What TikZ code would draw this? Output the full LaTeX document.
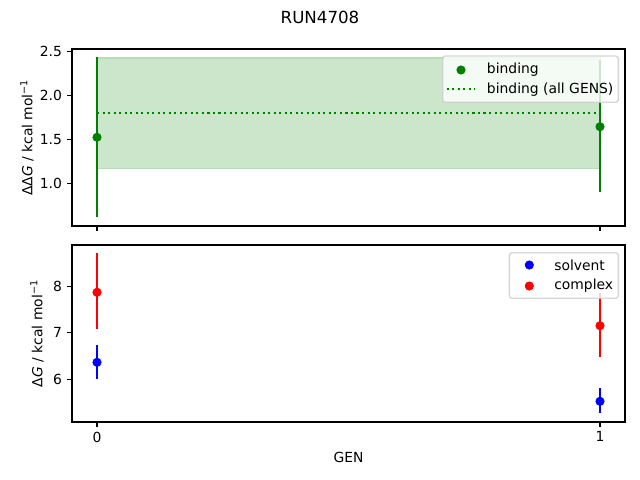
\documentclass[tikz,border=0pt]{standalone}
\usepackage{fontspec}
\setmainfont{DejaVu Sans}
\definecolor{mgreen}{HTML}{008000}
\definecolor{band}{HTML}{CCE6CC}
\definecolor{bandedge}{HTML}{B8DCB8}
\definecolor{legedge}{HTML}{CCCCCC}
\begin{document}
\begin{tikzpicture}[x=0.72pt,y=-0.72pt,
  axisbox/.style={draw=black,line width=0.8pt},
  tickmark/.style={draw=black,line width=0.8pt},
  ebar/.style={line width=1.5pt},
  pt/.style={circle,inner sep=0pt,minimum size=6.6pt},
  ylab/.style={anchor=east,font=\fontsize{10}{12}\selectfont,inner sep=0pt},
  xlab/.style={anchor=north,font=\fontsize{10}{12}\selectfont,inner sep=0pt},
  legbox/.style={draw=legedge,fill=white,fill opacity=0.8,draw opacity=0.8,line width=1pt,rounded corners=2pt},
  legtext/.style={anchor=west,font=\fontsize{10}{12}\selectfont,inner sep=0pt},
  axlabel/.style={font=\fontsize{10}{12}\selectfont,inner sep=0pt}]
\useasboundingbox (0,0) rectangle (640,480);
\fill[white] (0,0) rectangle (640,480);
\node[font=\fontsize{12}{14}\selectfont] (title) at (320,17) {RUN4708};

% ---------- top axes ----------
\filldraw[fill=band,draw=bandedge,line width=1pt] (97,58) rectangle (600,168.3);
\draw[mgreen,line width=1.5pt,dash pattern=on 1.5pt off 2.475pt] (97,112.7) coordinate (dl0) -- (600,112.7) coordinate (dl1);
\coordinate (g0t) at (97,57.3); \coordinate (g0b) at (97,217.3);
\coordinate (g1t) at (600,60); \coordinate (g1b) at (600,191.7);
\draw[ebar,mgreen] (g0t) -- (g0b);
\draw[ebar,mgreen] (g1t) -- (g1b);
\node[pt,fill=mgreen] (bind0) at (97,137.3) {};
\node[pt,fill=mgreen] (bind1) at (600,126.7) {};
\draw[axisbox] (72,49) rectangle (625,226);
% ticks
\foreach \y/\l in {51.3/2.5,95.3/2.0,139.3/1.5,183.3/1.0}{
  \draw[tickmark] (72,\y) -- (67.14,\y);
  \node[ylab] at (62.2,\y) {\l};
}
\foreach \x in {97,600}{\draw[tickmark] (\x,226) -- (\x,230.86);}
\node[axlabel,rotate=90] (ylabtop) at (27,137.5) {ΔΔ\textit{G} / kcal mol\textsuperscript{−1}};
% legend
\draw[legbox] (442.7,56) rectangle (618.3,102.3);
\node[pt,fill=mgreen] (legbind) at (461,70) {};
\node[legtext] (tbind) at (486.7,70) {binding};
\draw[mgreen,line width=1.5pt,dash pattern=on 1.5pt off 2.475pt] (446.7,89.3) coordinate (ld0) -- (475,89.3) coordinate (ld1);
\node[legtext] (tall) at (486.7,89.3) {binding (all GENS)};

% ---------- bottom axes ----------
\draw[ebar,blue] (97,345) coordinate (s0t) -- (97,378.7) coordinate (s0b);
\draw[ebar,blue] (600,388.3) coordinate (s1t) -- (600,413.3) coordinate (s1b);
\draw[ebar,red] (97,253.3) coordinate (c0t) -- (97,329.3) coordinate (c0b);
\draw[ebar,red] (600,293.3) coordinate (c1t) -- (600,356.7) coordinate (c1b);
\node[pt,fill=blue] (solv0) at (97,362.3) {};
\node[pt,fill=blue] (solv1) at (600,401.3) {};
\node[pt,fill=red] (comp0) at (97,292.3) {};
\node[pt,fill=red] (comp1) at (600,325.7) {};
\draw[axisbox] (72,245) rectangle (625,422);
\foreach \y/\l in {286.7/8,332.9/7,379.3/6}{
  \draw[tickmark] (72,\y) -- (67.14,\y);
  \node[ylab] at (62.2,\y) {\l};
}
\foreach \x/\l in {97/0,600/1}{
  \draw[tickmark] (\x,422) -- (\x,426.86);
  \node[xlab] at (\x,431.5) {\l};
}
\node[axlabel,rotate=90] (ylabbot) at (37,333.5) {Δ\textit{G} / kcal mol\textsuperscript{−1}};
\node[axlabel] (genlab) at (348.5,457) {GEN};
% legend
\draw[legbox] (509.3,252.7) rectangle (618.3,298.3);
\node[pt,fill=blue] (legsolv) at (529.3,265) {};
\node[legtext] (tsolv) at (554,265) {solvent};
\node[pt,fill=red] (legcomp) at (529.3,286) {};
\node[legtext] (tcomp) at (554,286) {complex};
\end{tikzpicture}
\end{document}
